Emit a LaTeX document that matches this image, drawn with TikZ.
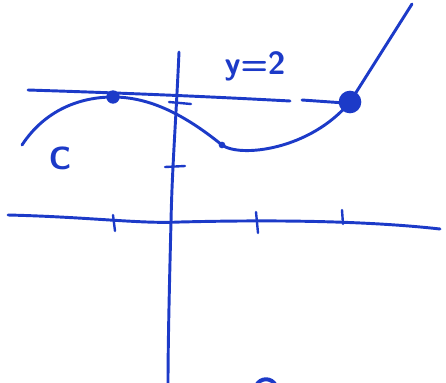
\documentclass[tikz,border=0pt]{standalone}
\usepackage{xcolor}
\usepackage{tikz}
\usetikzlibrary{positioning,calc}
\definecolor{pen}{RGB}{28,58,200}

\begin{document}
\begin{tikzpicture}[
    x=0.75pt, y=-0.75pt,
    ink/.style={draw=pen, line width=2.2pt, line cap=round, line join=round},
    tick/.style={draw=pen, line width=1.8pt, line cap=round},
    dot/.style={circle, fill=pen, inner sep=0pt},
    lbl/.style={text=pen, font=\sffamily\bfseries\fontsize{24}{26}\selectfont}
]
\useasboundingbox (0,0) rectangle (446,382);

% Axes
\coordinate (xl) at (8,215);
\coordinate (xr) at (440,229);
\coordinate (yt) at (179,52);
\coordinate (yb) at (168,384);
\draw[ink] (xl) .. controls (90,217) and (140,224) .. (180,222)
    .. controls (260,220) and (360,220) .. (xr);
\draw[ink] (yt) .. controls (176,120) and (172,170) .. (171,222)
    .. controls (169,300) and (168,350) .. (yb);

% Ticks
\draw[tick] (113,215) -- (115,231);
\draw[tick] (256,212) -- (258,233);
\draw[tick] (342,210) -- (343,224);
\draw[tick] (169,102) -- (191,104);
\draw[tick] (165,167) -- (185,166);

% Line y = 2
\coordinate (la) at (28,90);
\coordinate (lb) at (290,101);
\coordinate (lc) at (302,100);
\draw[ink] (la) .. controls (90,92) and (180,95) .. (lb);
\draw[ink] (lc) -- (345,103);

% Points
\node[dot, minimum size=10pt] (p1) at (113,97) {};
\node[dot, minimum size=5pt] (p2) at (222,145) {};
\node[dot, minimum size=17pt] (p3) at (350,102) {};

% Curve C
\coordinate (cs) at (22,145);
\coordinate (ce) at (412,4);
\draw[ink] (cs) .. controls (45,110) and (80,97) .. (p1.center)
    .. controls (150,97) and (185,115) .. (p2.center)
    .. controls (240,158) and (310,150) .. (p3.center)
    -- (ce);

% Labels
\node[lbl] (C) at (60,158) {C};
\node[lbl] (eq) at (255,66) {y=2};

% Cut-off mark at bottom
\coordinate (ba) at (256,386);
\coordinate (bb) at (276,386);
\draw[ink, line width=3pt] (ba) .. controls (260,377) and (272,377) .. (bb);
\end{tikzpicture}
\end{document}
